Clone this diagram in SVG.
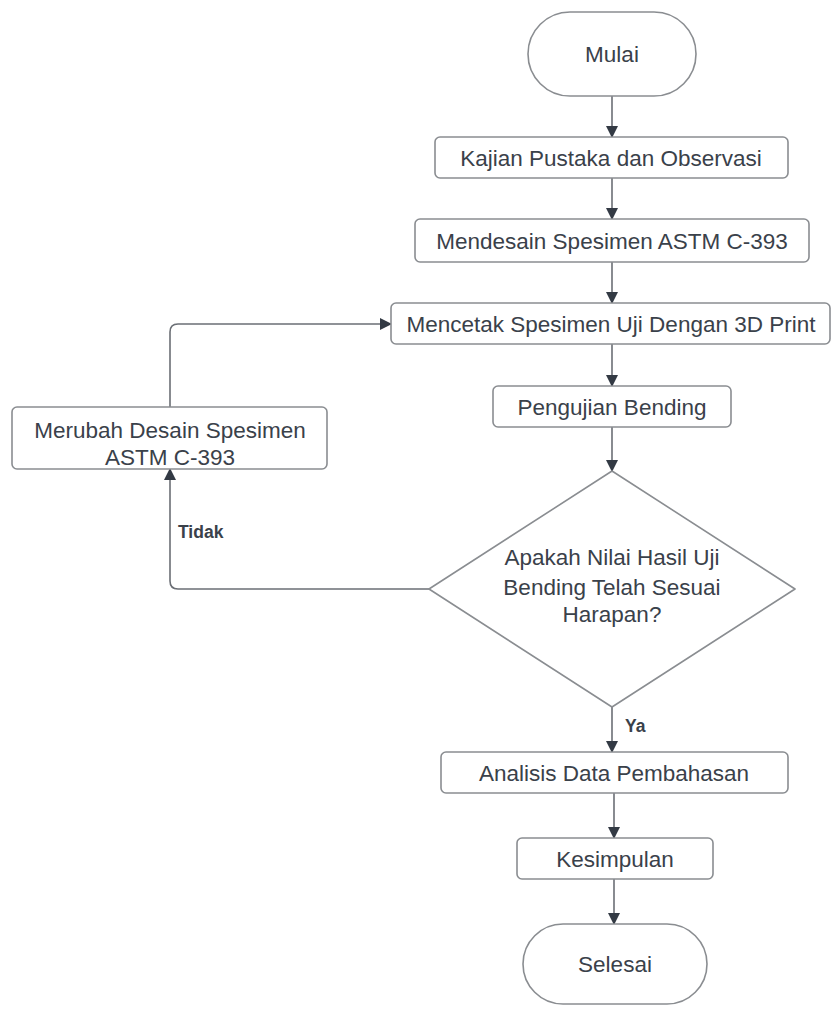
<svg xmlns="http://www.w3.org/2000/svg" width="832" height="1012" viewBox="0 0 832 1012">
<style>
.n{fill:#fff;stroke:#8a8d91;stroke-width:1.6}
.t{font-family:"Liberation Sans",Arial,sans-serif;font-size:22.5px;fill:#3a414a;text-anchor:middle;dominant-baseline:central}
.l{font-family:"Liberation Sans",Arial,sans-serif;font-size:17.5px;font-weight:bold;fill:#3a414a;dominant-baseline:central}
.c{fill:none;stroke:#6b6f75;stroke-width:1.6}
</style>
<defs>
<marker id="a" markerWidth="12" markerHeight="12" refX="11" refY="6" orient="auto" markerUnits="userSpaceOnUse">
<path d="M0,0 L12,6 L0,12 Z" fill="#333a44"/>
</marker>
</defs>
<rect width="832" height="1012" fill="#fff"/>
<g id="connectors">
<path class="c" d="M612,96 V137" marker-end="url(#a)"/>
<path class="c" d="M612,178 V219" marker-end="url(#a)"/>
<path class="c" d="M612,262 V303" marker-end="url(#a)"/>
<path class="c" d="M612,344 V386" marker-end="url(#a)"/>
<path class="c" d="M612,427 V471" marker-end="url(#a)"/>
<path class="c" d="M429,589 H178 Q170,589 170,581 V469" marker-end="url(#a)"/>
<path class="c" d="M170,407 V332 Q170,324 178,324 H391" marker-end="url(#a)"/>
<path class="c" d="M612,707 V752" marker-end="url(#a)"/>
<path class="c" d="M614,793 V838" marker-end="url(#a)"/>
<path class="c" d="M614,879 V924" marker-end="url(#a)"/>
<text class="l" x="178" y="532">Tidak</text>
<text class="l" x="625" y="726">Ya</text>
</g>
<g id="mulai"><rect class="n" x="528" y="12" width="168" height="84" rx="42"/><text class="t" x="612" y="54">Mulai</text></g>
<g id="kajian"><rect class="n" x="435" y="137" width="353" height="41" rx="5"/><text class="t" x="611" y="158">Kajian Pustaka dan Observasi</text></g>
<g id="mendesain"><rect class="n" x="415" y="219" width="394" height="43" rx="5"/><text class="t" x="612" y="241">Mendesain Spesimen ASTM C-393</text></g>
<g id="mencetak"><rect class="n" x="391" y="303" width="439" height="41" rx="5"/><text class="t" x="611" y="324">Mencetak Spesimen Uji Dengan 3D Print</text></g>
<g id="pengujian"><rect class="n" x="493" y="386" width="238" height="41" rx="5"/><text class="t" x="612" y="407">Pengujian Bending</text></g>
<g id="merubah"><rect class="n" x="12" y="407" width="315" height="62" rx="5"/><text class="t" x="170" y="430">Merubah Desain Spesimen</text><text class="t" x="170" y="457">ASTM C-393</text></g>
<g id="keputusan"><path class="n" d="M612,471 L795,589 L612,707 L429,589 Z" stroke-linejoin="round"/><text class="t" x="612" y="557">Apakah Nilai Hasil Uji</text><text class="t" x="612" y="587">Bending Telah Sesuai</text><text class="t" x="612" y="614">Harapan?</text></g>
<g id="analisis"><rect class="n" x="441" y="752" width="347" height="41" rx="5"/><text class="t" x="614" y="773">Analisis Data Pembahasan</text></g>
<g id="kesimpulan"><rect class="n" x="517" y="838" width="196" height="41" rx="5"/><text class="t" x="615" y="859">Kesimpulan</text></g>
<g id="selesai"><rect class="n" x="523" y="924" width="184" height="80" rx="40"/><text class="t" x="615" y="964">Selesai</text></g>
</svg>
